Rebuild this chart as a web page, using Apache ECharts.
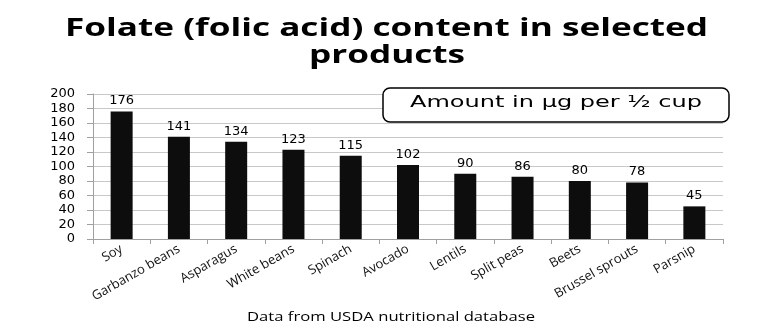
<!DOCTYPE html>
<html><head><meta charset="utf-8">
<script src="https://cdn.jsdelivr.net/npm/echarts@6/dist/echarts.min.js"></script>
<style>html,body{margin:0;padding:0;background:#fff}#c{width:775px;height:330px}</style>
</head><body><div id="c"></div>
<script>
var categories = ['Soy','Garbanzo beans','Asparagus','White beans','Spinach','Avocado','Lentils','Split peas','Beets','Brussel sprouts','Parsnip'];
var values = [176,141,134,123,115,102,90,86,80,78,45];
var yTicks = [0,20,40,60,80,100,120,140,160,180,200];
var titleLines = ['Folate (folic acid) content in selected', 'products'];
var legendText = 'Amount in µg per ½ cup';
var sourceText = 'Data from USDA nutritional database';

var measureCtx = document.createElement('canvas').getContext('2d');
function textWidth(text, font) { measureCtx.font = font; return measureCtx.measureText(text).width; }

var titleScale = 643 / textWidth(titleLines[0], 'bold 25px "Open Sans"');
var legendScale = 292 / textWidth(legendText, '16px "DejaVu Sans"');
var srcScale = 288 / textWidth(sourceText, '12px "Open Sans"');

function txt(text, x, y, family, size, weight, scale) {
  return {
    type: 'text', x: x, y: y, scaleX: scale, z: 10,
    style: {text: text, fontFamily: family, fontSize: size, fontWeight: weight, fill: '#000', align: 'center', verticalAlign: 'middle'}
  };
}

var chart = echarts.init(document.getElementById('c'));
chart.setOption({
  animation: false,
  graphic: [
    txt(titleLines[0], 386.5, 29, 'Open Sans', 25, 'bold', titleScale),
    txt(titleLines[1], 387, 56, 'Open Sans', 25, 'bold', titleScale),
    txt(sourceText, 391, 318, 'Open Sans', 12, 'normal', srcScale),
    {
      type: 'rect', x: 383, y: 88, z: 5, shape: {x: 0, y: 0, width: 346, height: 34, r: 7},
      style: {fill: '#fff', stroke: '#000', lineWidth: 1.5}
    },
    txt(legendText, 556, 102.5, 'DejaVu Sans', 16, 'normal', legendScale)
  ],
  grid: {left: 93, right: 52, top: 94, bottom: 91},
  xAxis: {
    type: 'category', data: categories,
    axisLine: {lineStyle: {color: '#a0a0a0'}},
    axisTick: {show: true, length: 5, lineStyle: {color: '#a0a0a0'}},
    axisLabel: {rotate: 30, interval: 0, fontFamily: 'Open Sans', fontSize: 13, color: '#111', margin: 9}
  },
  yAxis: {
    type: 'value', min: 0, max: 200, interval: 20,
    axisLine: {show: true, lineStyle: {color: '#a0a0a0'}},
    axisTick: {show: true, length: 6, lineStyle: {color: '#a0a0a0'}},
    splitLine: {lineStyle: {color: '#c8c8c8'}},
    axisLabel: {fontFamily: 'DejaVu Sans', fontSize: 13, color: '#000', margin: 18,
      formatter: function (v) { return yTicks.indexOf(v) >= 0 ? String(v) : ''; }}
  },
  series: [{
    type: 'bar', data: values, barWidth: 22,
    itemStyle: {color: '#0d0d0d'},
    label: {show: true, position: 'top', distance: 4, fontFamily: 'DejaVu Sans', fontSize: 13, color: '#000'}
  }]
});
</script></body></html>
